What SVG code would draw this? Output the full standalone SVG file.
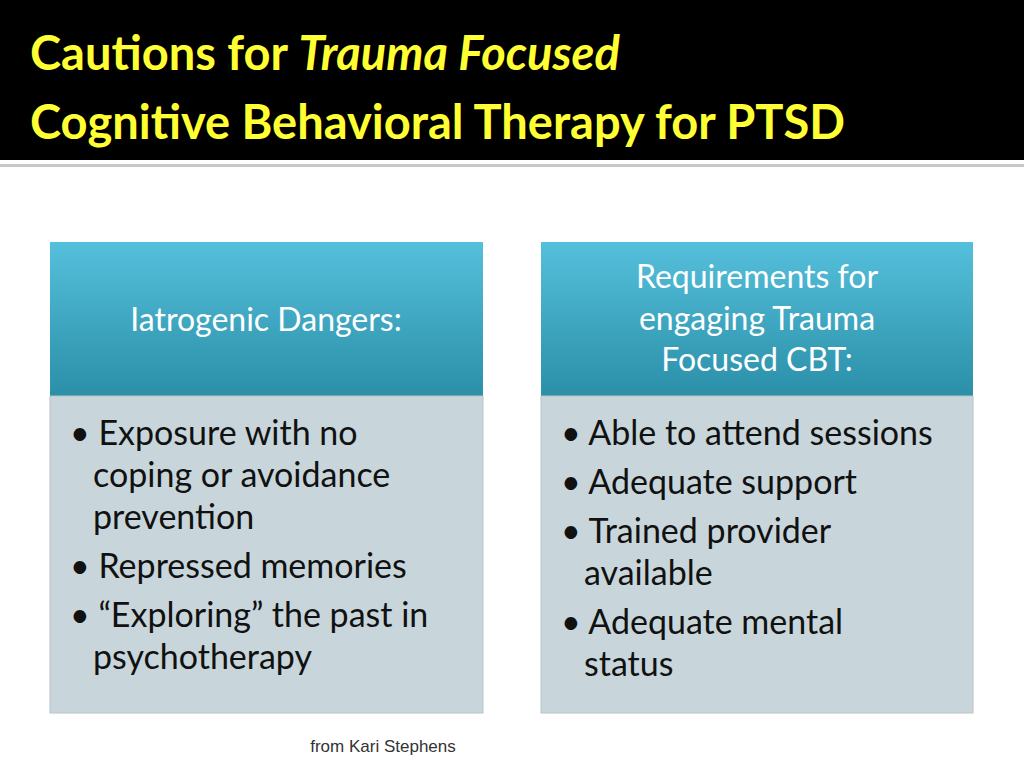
<svg xmlns="http://www.w3.org/2000/svg" width="1024" height="768" viewBox="0 0 1024 768">
<defs>
<linearGradient id="hg" x1="0" y1="0" x2="0" y2="1">
<stop offset="0" stop-color="#55c0dc"/><stop offset="1" stop-color="#2b8fa8"/>
</linearGradient>
<style>
.t{font-family:Lato,"Open Sans",sans-serif;font-weight:bold;font-size:47px;fill:#ffff33}
.h{font-family:Lato,"Open Sans",sans-serif;font-size:32px;fill:#ffffff;text-anchor:middle}
.b{font-family:Lato,"Open Sans",sans-serif;font-size:34px;fill:#111}
.body{fill:#c8d6db;stroke:#b8c4c8}
</style>
</defs>
<rect width="1024" height="768" fill="#fff"/>
<rect width="1024" height="160" fill="#000"/>
<rect y="164" width="1024" height="3" fill="#c8c8c8"/>
<text class="t" x="30" y="70">Cautions for <tspan font-style="italic">Trauma Focused</tspan></text>
<text class="t" x="30" y="139">Cognitive Behavioral Therapy for PTSD</text>
<g id="left">
<rect x="50" y="242" width="433" height="154" fill="url(#hg)"/>
<rect class="body" x="50" y="396" width="433" height="317"/>
<text class="h" x="266" y="331">Iatrogenic Dangers:</text>
<text class="b"><tspan x="70" y="445">• Exposure with no</tspan><tspan x="93" y="487">coping or avoidance</tspan><tspan x="93" y="529">prevention</tspan><tspan x="70" y="578">• Repressed memories</tspan><tspan x="70" y="627">• “Exploring” the past in</tspan><tspan x="93" y="669">psychotherapy</tspan></text>
</g>
<g id="right">
<rect x="541" y="242" width="432" height="154" fill="url(#hg)"/>
<rect class="body" x="541" y="396" width="432" height="317"/>
<text class="h"><tspan x="757" y="288">Requirements for</tspan><tspan x="757" y="330">engaging Trauma</tspan><tspan x="757" y="371">Focused CBT:</tspan></text>
<text class="b"><tspan x="561" y="445">• Able to attend sessions</tspan><tspan x="561" y="494">• Adequate support</tspan><tspan x="561" y="543">• Trained provider</tspan><tspan x="584" y="585">available</tspan><tspan x="561" y="634">• Adequate mental</tspan><tspan x="584" y="676">status</tspan></text>
</g>
<text x="383" y="752" font-family="'Liberation Sans',sans-serif" font-size="17" fill="#333" text-anchor="middle">from Kari Stephens</text>
</svg>
